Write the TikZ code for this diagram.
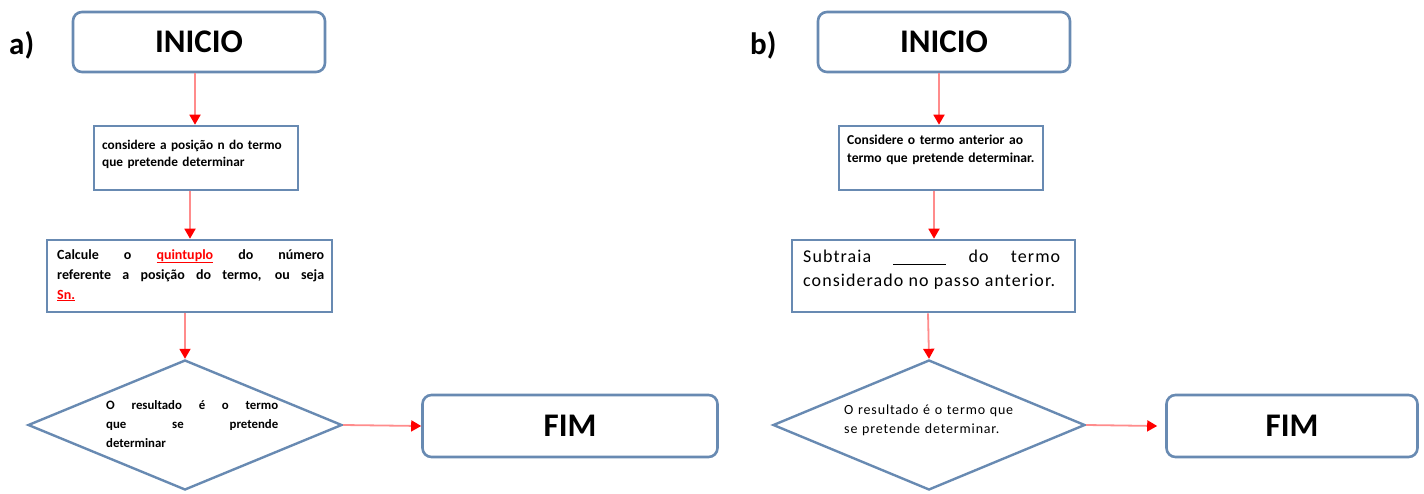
\documentclass[tikz,border=0pt]{standalone}
\usepackage{fontspec}
\setmainfont{Carlito}
\usetikzlibrary{shapes.geometric,arrows.meta}
\definecolor{bord}{RGB}{104,138,178}
\definecolor{arrline}{RGB}{255,140,140}
\definecolor{arrhead}{RGB}{255,0,0}
\tikzset{
  rbox/.style={draw=bord,line width=2.6pt,rounded corners=9pt,fill=white,inner sep=0pt},
  sbox/.style={draw=bord,line width=2.6pt,fill=white,inner sep=0pt},
  dia/.style={draw=bord,line width=2.4pt,diamond,inner sep=0pt,fill=white},
  ttl/.style={font=\fontsize{33}{36}\selectfont\bfseries,inner sep=0pt},
  lbl/.style={font=\fontsize{31}{34}\selectfont\bfseries,inner sep=0pt,anchor=west},
  txt/.style={inner sep=0pt,anchor=north west,align=justify},
  arr/.style={draw=arrline,line width=1.8pt,-{Triangle[length=10pt,width=11pt,color=arrhead]}}
}
\newcommand{\redul}[1]{\textcolor{red}{\underline{#1}}}
\begin{document}
\begin{tikzpicture}[x=1pt,y=-1pt]
\useasboundingbox (0,0) rectangle (1424,493);
% ---------- panel a ----------
\node[lbl] (la) at (9,45) {a)};
\node[rbox,minimum width=252pt,minimum height=60pt] (ini1) at (199,42) {};
\node[ttl] (ini1t) at (ini1) {INICIO};
\node[sbox,minimum width=204pt,minimum height=64pt] (b2a) at (196,158) {};
\node[txt,text width=190pt,font=\fontsize{13.3}{17}\selectfont\bfseries,align=left] (b2at) at (102,140) {considere a posição n do termo\\que pretende determinar};
\node[sbox,minimum width=285pt,minimum height=72pt] (b3a) at (189.5,276) {};
\node[txt,text width=267pt,font=\fontsize{14}{20}\selectfont\bfseries] (b3at) at (57,249) {Calcule o \redul{quintuplo} do número\linebreak referente a posição do termo, ou seja\linebreak \redul{Sn.}};
\node[dia,minimum width=314pt,minimum height=130pt] (da) at (185,425) {};
\node[txt,text width=172pt,font=\fontsize{12.8}{19}\selectfont\bfseries] (dat) at (106,400) {O resultado é o termo\linebreak que se pretende\linebreak determinar};
\node[rbox,minimum width=295pt,minimum height=62pt] (fima) at (570,426) {};
\node[ttl] (fimat) at (fima) {FIM};
\draw[arr] ([xshift=-4pt]ini1.south) -- ([xshift=-4pt]ini1.south |- b2a.north);
\draw[arr] ([xshift=-6pt]b2a.south) -- ([xshift=-6pt]b2a.south |- b3a.north);
\draw[arr] ([xshift=-4.5pt]b3a.south) -- (da.north);
\draw[arr] (da.east) -- (fima.west);
% ---------- panel b ----------
\node[lbl] (lb) at (750,45) {b)};
\node[rbox,minimum width=252pt,minimum height=60pt] (ini2) at (944,42) {};
\node[ttl] (ini2t) at (ini2) {INICIO};
\node[sbox,minimum width=204pt,minimum height=64pt] (b2b) at (941,158) {};
\node[txt,text width=195pt,font=\fontsize{13.6}{18}\selectfont\bfseries,align=left] (b2bt) at (847,135) {Considere o termo anterior ao\\termo que pretende determinar.};
\node[sbox,minimum width=283pt,minimum height=72pt] (b3b) at (933.5,276) {};
\node[txt,text width=257pt,font=\fontsize{18}{24}\selectfont\addfontfeature{LetterSpace=6}] (b3bt) at (803,250) {Subtraia \underline{\hspace{53pt}} do termo\linebreak considerado no passo anterior.};
\node[dia,minimum width=312pt,minimum height=130pt] (db) at (929,425) {};
\node[txt,text width=195pt,font=\fontsize{14}{19}\selectfont\addfontfeature{LetterSpace=6},align=left] (dbt) at (844,405) {O resultado é o termo que\\se pretende determinar.};
\node[rbox,minimum width=251pt,minimum height=62pt] (fimb) at (1292,426) {};
\node[ttl] (fimbt) at (fimb) {FIM};
\draw[arr] ([xshift=-5pt]ini2.south) -- ([xshift=-5pt]ini2.south |- b2b.north);
\draw[arr] ([xshift=-7pt]b2b.south) -- ([xshift=-7pt]b2b.south |- b3b.north);
\draw[arr] ([xshift=-5.5pt]b3b.south) -- (db.north);
\draw[arr] (db.east) -- ([xshift=-8pt]fimb.west);
\end{tikzpicture}
\end{document}
